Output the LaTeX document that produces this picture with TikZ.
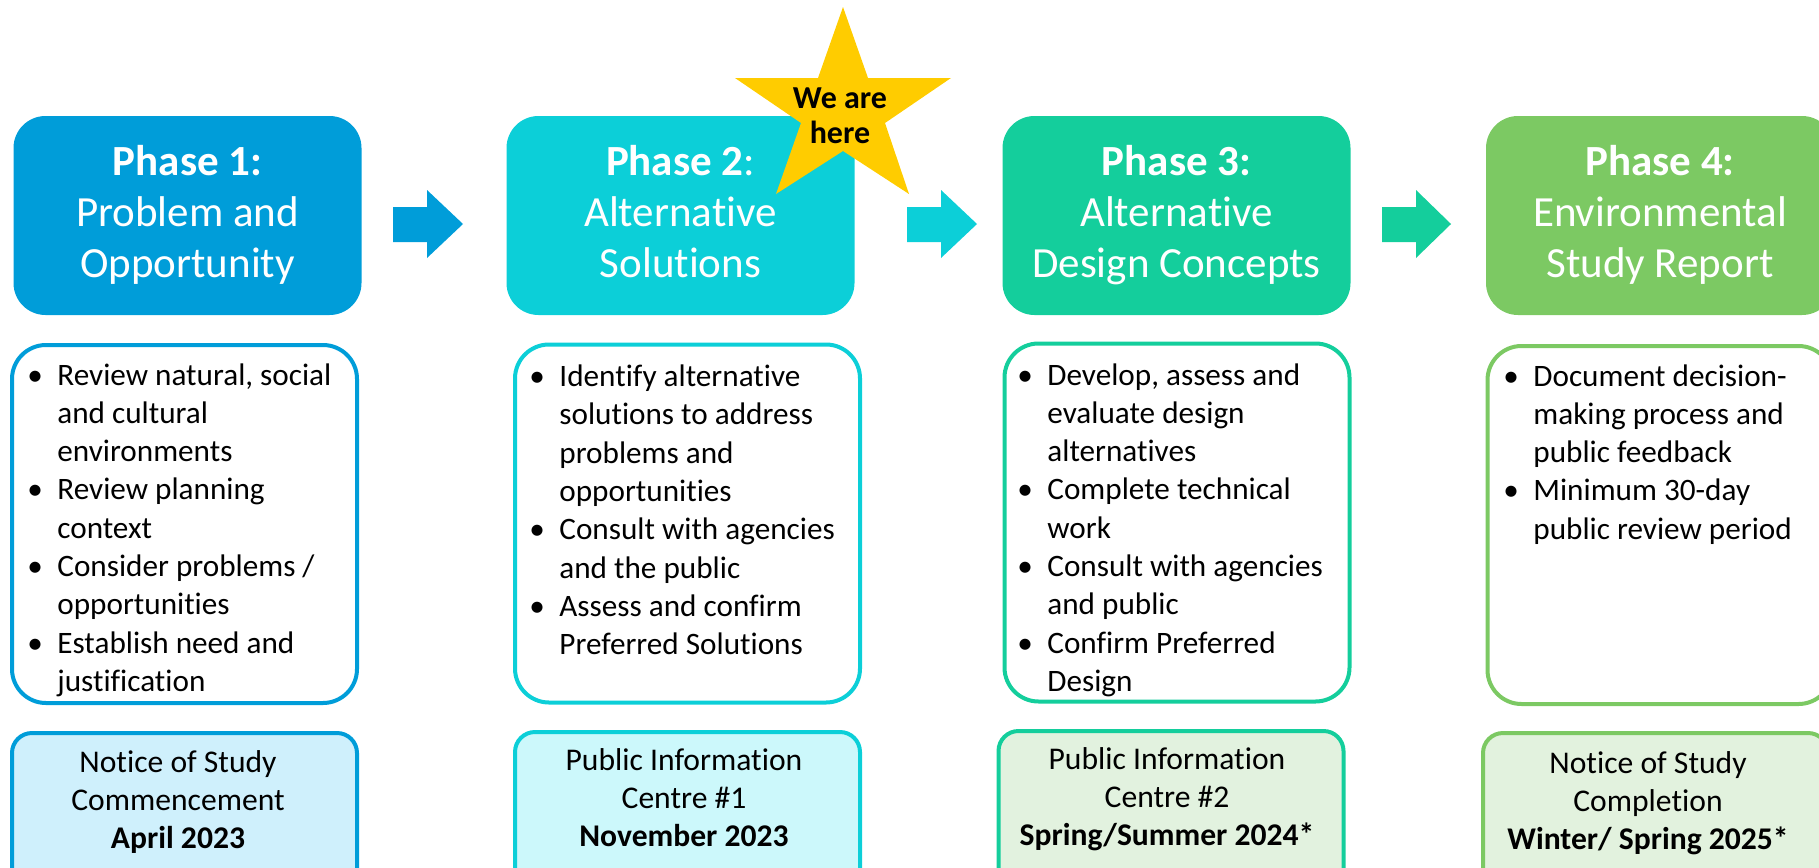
\documentclass[tikz,border=0pt]{standalone}
\usepackage{fontspec}
\setmainfont{Carlito}[Ligatures=NoCommon]
\usetikzlibrary{calc}

\definecolor{phaseA}{HTML}{009DD9}
\definecolor{phaseB}{HTML}{0CCFD8}
\definecolor{phaseC}{HTML}{14CE9C}
\definecolor{phaseD}{HTML}{7CC963}
\definecolor{noteA}{HTML}{CFF0FC}
\definecolor{noteB}{HTML}{CCF8FB}
\definecolor{noteC}{HTML}{E2F2DF}
\definecolor{noteD}{HTML}{E2F2DE}
\definecolor{starfill}{HTML}{FFCC00}

% bullet hanging to the left of the text column
\newcommand{\itembul}{\llap{\makebox[15pt][l]{\textbullet}}}

\tikzset{
  hdrbox/.style={rectangle, rounded corners=16pt, inner sep=0pt, outer sep=0pt,
    minimum width=174pt, minimum height=99.5pt},
  hdrtext/.style={anchor=base, inner sep=0pt, text=white,
    font=\fontsize{21.5}{25.5}\selectfont},
  bodybox/.style={rectangle, rounded corners=17pt, line width=2pt, fill=white,
    inner sep=0pt, minimum width=172.5pt, minimum height=179pt},
  bodytext/.style={anchor=base west, inner sep=0pt, text=black,
    font=\fontsize{15.6}{19.15}\selectfont},
  notebox/.style={rectangle, rounded corners=10pt, line width=2pt,
    inner sep=0pt, minimum width=172.5pt, minimum height=82.5pt},
  notetext/.style={anchor=base, inner sep=0pt, text=black,
    font=\fontsize{15.8}{19.1}\selectfont},
  startext/.style={anchor=base, inner sep=0pt, text=black,
    font=\fontsize{16}{17.5}\selectfont\bfseries},
}

\begin{document}
\begin{tikzpicture}[x=0.5pt,y=-0.5pt]
\useasboundingbox (0,0) rectangle (1819,867);
\clip (0,0) rectangle (1819,867);

% phase headers
\node[hdrbox, fill=phaseA] (h1) at (187.5,215.5) {};
\node[hdrbox, fill=phaseB] (h2) at (680.5,215.5) {};
\node[hdrbox, fill=phaseC] (h3) at (1176.5,215.5) {};
\node[hdrbox, fill=phaseD] (h4) at (1660,215.5) {};

\node[hdrtext] (t1) at (187.5,175) {\begin{tabular}[t]{@{}c@{}}\textbf{Phase 1:}\\Problem and\\Opportunity\end{tabular}};
\node[hdrtext] (t2) at (680.5,175) {\begin{tabular}[t]{@{}c@{}}\textbf{Phase 2}:\\Alternative\\Solutions\end{tabular}};
\node[hdrtext] (t3) at (1176.5,175) {\begin{tabular}[t]{@{}c@{}}\textbf{Phase 3:}\\Alternative\\Design Concepts\end{tabular}};
\node[hdrtext] (t4) at (1660,175) {\begin{tabular}[t]{@{}c@{}}\textbf{Phase 4:}\\Environmental\\Study Report\end{tabular}};

% block arrows between the phases
\fill[phaseA] (393,207) -- (427,207) -- (427,190) -- (463,224) -- (427,258) -- (427,242) -- (393,242) -- cycle;
\fill[phaseB] (907,207) -- (941,207) -- (941,190) -- (977,224) -- (941,258) -- (941,242) -- (907,242) -- cycle;
\fill[phaseC] (1382,207) -- (1416,207) -- (1416,190) -- (1451,224) -- (1416,258) -- (1416,242) -- (1382,242) -- cycle;

% current-position star
\fill[starfill] (843,7) -- (868,78) -- (951,78) -- (885,123) -- (909,194) -- (843,151)
  -- (776,194) -- (801,123) -- (735,78) -- (818,78) -- cycle;
\node[startext] (here) at (840,108) {\begin{tabular}[t]{@{}c@{}}We are\\here\end{tabular}};

% activity boxes
\node[bodybox, draw=phaseA] (b1) at (184.5,524) {};
\node[bodybox, draw=phaseB] (b2) at (687.5,523.5) {};
\node[bodybox, draw=phaseC] (b3) at (1177,522.5) {};
\node[bodybox, draw=phaseD] (b4) at (1660,525) {};

\node[bodytext] (l1) at (57,385) {\begin{tabular}[t]{@{}l@{}}
\itembul Review natural, social\\and cultural\\environments\\
\itembul Review planning\\context\\
\itembul Consider problems /\\opportunities\\
\itembul Establish need and\\justification\end{tabular}};
\node[bodytext] (l2) at (559,386.5) {\begin{tabular}[t]{@{}l@{}}
\itembul Identify alternative\\solutions to address\\problems and\\opportunities\\
\itembul Consult with agencies\\and the public\\
\itembul Assess and confirm\\Preferred Solutions\end{tabular}};
\node[bodytext] (l3) at (1047,385) {\begin{tabular}[t]{@{}l@{}}
\itembul Develop, assess and\\evaluate design\\alternatives\\
\itembul Complete technical\\work\\
\itembul Consult with agencies\\and public\\
\itembul Confirm Preferred\\Design\end{tabular}};
\node[bodytext] (l4) at (1533,386) {\begin{tabular}[t]{@{}l@{}}
\itembul Document decision-\\making process and\\public feedback\\
\itembul Minimum 30-day\\public review period\end{tabular}};

% consultation milestones
\node[notebox, draw=phaseA, fill=noteA] (n1) at (184.5,815.5) {};
\node[notebox, draw=phaseB, fill=noteB] (n2) at (687.5,814.5) {};
\node[notebox, draw=phaseC, fill=noteC] (n3) at (1171,813.5) {};
\node[notebox, draw=phaseD, fill=noteD] (n4) at (1655.5,815.5) {};

\node[notetext] (m1) at (178,772) {\begin{tabular}[t]{@{}c@{}}Notice of Study\\Commencement\\\textbf{April 2023}\end{tabular}};
\node[notetext] (m2) at (684,770) {\begin{tabular}[t]{@{}c@{}}Public Information\\Centre \#1\\\textbf{November 2023}\end{tabular}};
\node[notetext] (m3) at (1167,769) {\begin{tabular}[t]{@{}c@{}}Public Information\\Centre \#2\\\textbf{Spring/Summer 2024*}\end{tabular}};
\node[notetext] (m4) at (1648,773) {\begin{tabular}[t]{@{}c@{}}Notice of Study\\Completion\\\textbf{Winter/ Spring 2025*}\end{tabular}};
\end{tikzpicture}
\end{document}
